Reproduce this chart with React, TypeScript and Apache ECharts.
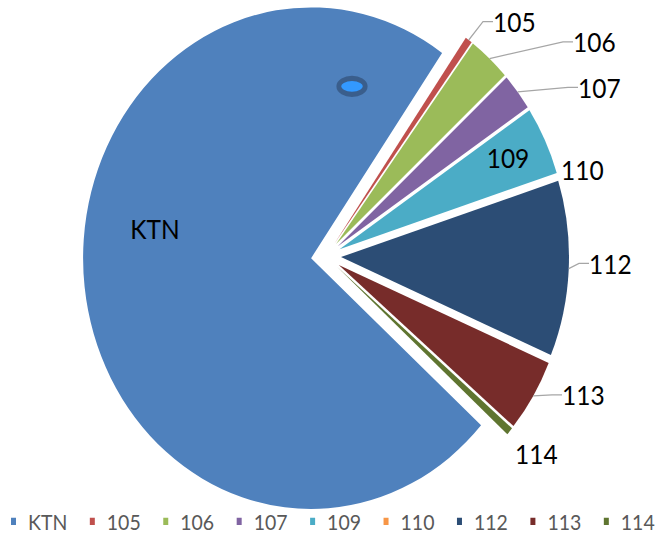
import React, { useEffect, useRef } from 'react';
import * as echarts from 'echarts';

// ---- data ----
const categories = ['KTN', '105', '106', '107', '109', '110', '112', '113', '114'];
const values = [72.8, 0.5, 3.0, 2.4, 4.4, 0, 11.25, 4.7, 0.5];
const colors = ['#4F81BD', '#C0504D', '#9BBB59', '#8064A2', '#4BACC6', '#F79646', '#2C4D75', '#772C2A', '#5F7530'];
const insideLabels = ['KTN', '109'];
const noLineLabels = ['KTN', '109', '110', '114'];

// ---- layout (chart coordinates, before vertical stretch) ----
const SCALE_Y = 1.1;
const W = 662;
const H = Math.round(534 / SCALE_Y);
const CENTER = [326, 233];
const RADIUS = 228;
const EXPLODE = 15;
const START = -41.8;

const labelPos: { x: number; y: number; align: string }[] = [
  { x: 155, y: 208, align: 'center' }, // KTN
  { x: 493, y: 19.7, align: 'left' }, // 105
  { x: 573, y: 38, align: 'left' }, // 106
  { x: 578, y: 79.4, align: 'left' }, // 107
  { x: 508, y: 143.6, align: 'center' }, // 109
  { x: 561, y: 154.5, align: 'left' }, // 110
  { x: 589, y: 239.4, align: 'left' }, // 112
  { x: 562, y: 359, align: 'left' }, // 113
  { x: 515, y: 412.7, align: 'left' }, // 114
];

export default function App() {
  const ref = useRef<HTMLDivElement>(null);

  useEffect(() => {
    if (!ref.current) return;
    const chart = echarts.init(ref.current, undefined, { renderer: 'svg', width: W, height: H });

    const sliceData = categories.map((name, i) => ({
      name,
      value: values[i],
      selected: true,
      itemStyle: { color: colors[i] },
    }));

    const labelData = categories.map((name, i) => ({
      name,
      value: values[i],
      itemStyle: { color: 'rgba(0,0,0,0)' },
      label: { position: insideLabels.includes(name) ? 'inside' : 'outside' },
      labelLine: { show: !noLineLabels.includes(name) },
    }));

    chart.setOption({
      animation: false,
      color: colors,
      legend: {
        data: categories,
        left: 11,
        top: 464,
        width: 700,
        padding: 0,
        orient: 'horizontal',
        icon: 'rect',
        itemWidth: 5,
        itemHeight: 6.5,
        itemGap: 22.5,
        selectedMode: false,
        textStyle: { fontFamily: 'Lato', fontSize: 19.5, color: '#595959', padding: [0, 0, 0, 7] },
      },
      graphic: [
        {
          type: 'ellipse',
          z: 100,
          shape: { cx: 352, cy: 78.5, rx: 13.2, ry: 7.2 },
          style: { fill: '#3399FF', stroke: '#3A5E8C', lineWidth: 4.8 },
        },
      ],
      series: [
        {
          name: 'slices',
          type: 'pie',
          z: 2,
          center: CENTER,
          radius: RADIUS,
          startAngle: START,
          clockwise: true,
          selectedMode: 'multiple',
          selectedOffset: EXPLODE,
          avoidLabelOverlap: false,
          emphasis: { disabled: true },
          itemStyle: { borderWidth: 0 },
          label: { show: false },
          labelLine: { show: false },
          data: sliceData,
        },
        {
          name: 'labels',
          type: 'pie',
          z: 3,
          silent: true,
          center: CENTER,
          radius: RADIUS + EXPLODE,
          startAngle: START,
          clockwise: true,
          selectedMode: false,
          avoidLabelOverlap: false,
          emphasis: { disabled: true },
          itemStyle: { borderWidth: 0 },
          label: {
            show: true,
            formatter: '{b}',
            fontFamily: 'Lato',
            fontSize: 24.5,
            color: '#000',
          },
          labelLine: {
            show: true,
            length: 8,
            length2: 10,
            lineStyle: { color: '#A6A6A6', width: 1.2 },
          },
          labelLayout: (params: any) => {
            const p = labelPos[params.dataIndex];
            return { x: p.x, y: p.y, align: p.align, verticalAlign: 'middle' };
          },
          data: labelData,
        },
      ],
    });
    return () => chart.dispose();
  }, []);

  return (
    <div
      ref={ref}
      style={{
        position: 'absolute',
        left: 0,
        top: 0,
        width: W,
        height: H,
        transform: `scaleY(${SCALE_Y})`,
        transformOrigin: '0 0',
        background: '#fff',
      }}
    />
  );
}
